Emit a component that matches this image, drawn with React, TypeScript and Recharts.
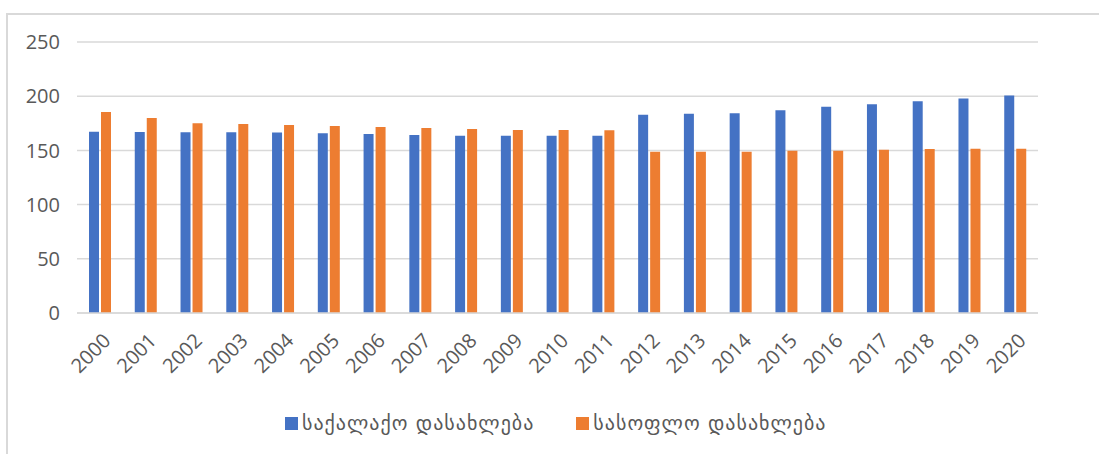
import React from 'react';
import { BarChart, Bar, XAxis, YAxis, CartesianGrid, Legend } from 'recharts';

const years = ['2000','2001','2002','2003','2004','2005','2006','2007','2008','2009','2010','2011','2012','2013','2014','2015','2016','2017','2018','2019','2020'];
const urban = [167.3, 167, 166.7, 166.7, 166.4, 165.8, 165.2, 164.2, 163.6, 163.6, 163.6, 163.6, 183, 183.7, 184.3, 187, 190.2, 192.6, 195.4, 197.9, 200.6];
const rural = [185.5, 180, 175, 174.4, 173.5, 172.6, 171.6, 170.7, 169.8, 168.9, 168.9, 168.6, 148.8, 148.8, 148.8, 149.7, 149.7, 150.6, 151.3, 151.6, 151.6];
const yTicks = [0, 50, 100, 150, 200, 250];
const seriesNames = ['საქალაქო დასახლება', 'სასოფლო დასახლება'];
const colors = ['#4472C4', '#ED7D31'];

const data = years.map((y, i) => ({ year: y, urban: urban[i], rural: rural[i] }));

const FONT = "'Open Sans', 'DejaVu Sans', sans-serif";
const TEXT = '#595959';
const GRID = '#d9d9d9';

const XTick = (props: any) => {
  const { x, y, payload } = props;
  const tx = x + 12;
  const ty = y + 29;
  return (
    <text x={tx} y={ty} textAnchor="end" fill={TEXT} fontSize={20} fontFamily={FONT}
      transform={`rotate(-45 ${tx} ${ty})`}>
      {payload.value}
    </text>
  );
};

const renderLegend = () => (
  <div style={{ display: 'flex', alignItems: 'center', height: 30, paddingLeft: 285, fontFamily: "'DejaVu Sans', sans-serif", fontSize: 20, letterSpacing: 1, color: TEXT }}>
    {seriesNames.map((n, i) => (
      <div key={n} style={{ display: 'flex', alignItems: 'center', marginRight: 42 }}>
        <span style={{ display: 'inline-block', width: 13, height: 13, background: colors[i], marginRight: 4 }} />
        <span style={{ whiteSpace: 'nowrap' }}>{n}</span>
      </div>
    ))}
  </div>
);

export default function App() {
  return (
    <div style={{ position: 'absolute', left: 0, top: 0, width: 1099, height: 454, background: '#fff', overflow: 'hidden' }}>
      <div style={{ position: 'absolute', left: 6, top: 13, width: 1200, height: 600, borderTop: `2px solid ${GRID}`, borderLeft: `2px solid ${GRID}` }} />
      <div style={{ position: 'absolute', left: 0, top: 0 }}>
        <BarChart width={1099} height={454} data={data} margin={{ top: 42, right: 61, left: 0, bottom: 16 }} barSize={10} barGap={2}>
          <CartesianGrid vertical={false} stroke={GRID} strokeWidth={1.5} />
          <XAxis dataKey="year" interval={0} tickLine={false} tickSize={0} tickMargin={0} height={95}
            axisLine={{ stroke: GRID, strokeWidth: 1.5 }} tick={<XTick />} />
          <YAxis domain={[0, 250]} ticks={yTicks} axisLine={false} tickLine={false} tickSize={0} tickMargin={17} width={77}
            tick={{ fill: TEXT, fontSize: 20, fontFamily: FONT }} />
          <Legend verticalAlign="bottom" content={renderLegend} wrapperStyle={{ left: 0, width: 1099 }} />
          <Bar dataKey="urban" name={seriesNames[0]} fill={colors[0]} isAnimationActive={false} />
          <Bar dataKey="rural" name={seriesNames[1]} fill={colors[1]} isAnimationActive={false} />
        </BarChart>
      </div>
    </div>
  );
}
